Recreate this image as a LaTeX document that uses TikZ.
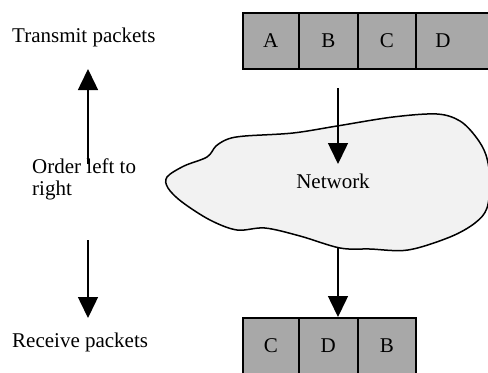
\documentclass[tikz,border=0pt]{standalone}
\usepackage{fontspec}
\setmainfont{Liberation Serif}
\usetikzlibrary{arrows.meta}
\definecolor{cellgray}{RGB}{168,168,168}
\definecolor{cloudgray}{RGB}{242,242,242}
\tikzset{
  cell/.style={draw=black, line width=1.6bp, fill=cellgray, minimum height=56bp,
    inner sep=0pt, anchor=north west, text depth=0pt},
  label/.style={inner sep=0pt, anchor=base west},
  flow/.style={line width=1.5bp, -{Triangle[length=21bp,width=20bp]}},
  every node/.style={font=\fontsize{21bp}{22bp}\selectfont}
}
\begin{document}
\begin{tikzpicture}[x=1bp,y=-1bp]
  \useasboundingbox (0,0) rectangle (488,372);
  \clip (0,0) rectangle (488,372);

  % network cloud
  \draw[line width=1.5bp, fill=cloudgray] plot[smooth cycle, tension=0.55] coordinates {
    (167,177) (184,166) (207,157) (216,146) (228,139) (245,136) (293,133) (337,126)
    (393,117) (437,114) (460,121) (476,137) (486,155) (490,180) (487,208) (475,223)
    (450,237) (408,250) (370,249) (340,248) (300,236) (265,228) (237,230) (210,220)
    (182,202) (168,188)};
  \node[inner sep=0pt, anchor=base] (net) at (333,188) {Network};

  % transmitted packets
  \node[cell, minimum width=56bp] (tA) at (242,12) {A};
  \node[cell, minimum width=59bp] (tB) at (298,12) {B};
  \node[cell, minimum width=58bp] (tC) at (357,12) {C};
  \node[cell, minimum width=90bp, inner xsep=19.5bp, text width=51bp, align=left] (tD) at (415,12) {D};

  % received packets
  \node[cell, minimum width=56bp] (rC) at (242,317) {C};
  \node[cell, minimum width=59bp] (rD) at (298,317) {D};
  \node[cell, minimum width=58bp] (rB) at (357,317) {B};

  % side labels
  \node[label] (tx) at (12,42) {Transmit packets};
  \node[label] (rx) at (12,347) {Receive packets};
  \node[label] (ord1) at (32,173) {Order left to};
  \node[label] (ord2) at (32,195) {right};

  % arrows through the network
  \coordinate (inTail) at (338,88);
  \coordinate (inTip) at (338,164);
  \coordinate (outTail) at (338,248);
  \draw[flow] (inTail) -- (inTip);
  \draw[flow] (outTail) -- (outTail |- rD.north);

  % ordering arrows
  \coordinate (upTail) at (88,164);
  \coordinate (upTip) at (88,69);
  \coordinate (downTail) at (88,240);
  \coordinate (downTip) at (88,318);
  \draw[flow] (upTail) -- (upTip);
  \draw[flow] (downTail) -- (downTip);
\end{tikzpicture}
\end{document}
